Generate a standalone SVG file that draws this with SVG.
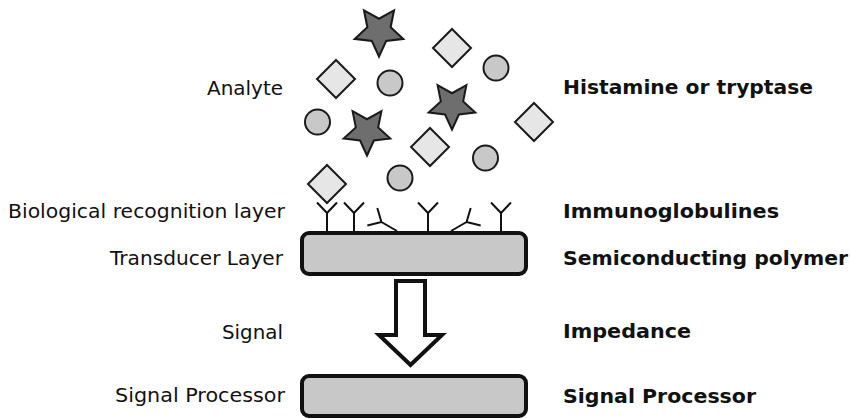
<svg xmlns="http://www.w3.org/2000/svg" xmlns:xlink="http://www.w3.org/1999/xlink" width="850" height="419" viewBox="0 0 850 419">
<style>
.lbl{font-family:"DejaVu Sans","Liberation Sans",sans-serif;font-size:19px;fill:#111}
.bold{font-weight:bold}
.star{fill:#6e6e6e;stroke:#1a1a1a;stroke-width:2;stroke-linejoin:miter}
.dia{fill:#e6e6e6;stroke:#1a1a1a;stroke-width:2}
.circ{fill:#c8c8c8;stroke:#1a1a1a;stroke-width:2}
.box{fill:#c8c8c8;stroke:#111;stroke-width:4}
.ab{fill:none;stroke:#111;stroke-width:2}
.arrow{fill:#fff;stroke:#111;stroke-width:4;stroke-linejoin:miter}
</style>
<defs>
<path id="star" d="M0,24.5 L-6.91,9.51 L-23.3,7.57 L-11.18,-3.63 L-14.41,-19.82 L0,-11.76 L14.41,-19.82 L11.18,-3.63 L23.3,7.57 L6.91,9.51 Z"/>
<path id="dia" d="M0,-19 L19,0 L0,19 L-19,0 Z"/>
<path id="ab" d="M0,0 L0,-18 M-10,-28.5 L0,-18 L10,-28.5"/>
</defs>
<rect width="850" height="419" fill="#fff"/>
<g id="analytes">
<use xlink:href="#star" class="star" transform="translate(379,31) scale(1.04)"/>
<use xlink:href="#star" class="star" transform="translate(452,105)"/>
<use xlink:href="#star" class="star" transform="translate(367,131)"/>
<use xlink:href="#dia" class="dia" transform="translate(452,48)"/>
<use xlink:href="#dia" class="dia" transform="translate(336,79)"/>
<use xlink:href="#dia" class="dia" transform="translate(534,122)"/>
<use xlink:href="#dia" class="dia" transform="translate(430,147)"/>
<use xlink:href="#dia" class="dia" transform="translate(327,184)"/>
<circle class="circ" cx="390" cy="83" r="12.5"/>
<circle class="circ" cx="496" cy="68" r="12.5"/>
<circle class="circ" cx="317.5" cy="122" r="12.5"/>
<circle class="circ" cx="485.5" cy="158" r="12.5"/>
<circle class="circ" cx="400" cy="178" r="12.5"/>
</g>
<g id="antibodies">
<use xlink:href="#ab" class="ab" transform="translate(327,231)"/>
<use xlink:href="#ab" class="ab" transform="translate(354,231)"/>
<use xlink:href="#ab" class="ab" transform="translate(397,231) rotate(-60)"/>
<use xlink:href="#ab" class="ab" transform="translate(428,231)"/>
<use xlink:href="#ab" class="ab" transform="translate(451,231) rotate(60)"/>
<use xlink:href="#ab" class="ab" transform="translate(501,231)"/>
</g>
<g id="transducer">
<rect class="box" x="302" y="233" width="224" height="41" rx="7"/>
</g>
<g id="connectors">
<polygon class="arrow" points="396,281 425,281 425,335 442,335 410.5,365 379,335 396,335"/>
</g>
<g id="processor">
<rect class="box" x="302" y="376" width="224" height="40" rx="7"/>
</g>
<g id="labels-left">
<text class="lbl" x="207" y="95" textLength="76" lengthAdjust="spacingAndGlyphs">Analyte</text>
<text class="lbl" x="8" y="218" textLength="277" lengthAdjust="spacingAndGlyphs">Biological recognition layer</text>
<text class="lbl" x="110" y="265" textLength="173" lengthAdjust="spacingAndGlyphs">Transducer Layer</text>
<text class="lbl" x="222" y="339" textLength="61" lengthAdjust="spacingAndGlyphs">Signal</text>
<text class="lbl" x="115" y="402" textLength="170" lengthAdjust="spacingAndGlyphs">Signal Processor</text>
</g>
<g id="labels-right">
<text class="lbl bold" x="563" y="94" textLength="250" lengthAdjust="spacingAndGlyphs">Histamine or tryptase</text>
<text class="lbl bold" x="563" y="218" textLength="216" lengthAdjust="spacingAndGlyphs">Immunoglobulines</text>
<text class="lbl bold" x="563" y="265" textLength="285" lengthAdjust="spacingAndGlyphs">Semiconducting polymer</text>
<text class="lbl bold" x="563" y="338" textLength="128" lengthAdjust="spacingAndGlyphs">Impedance</text>
<text class="lbl bold" x="563" y="403" textLength="193" lengthAdjust="spacingAndGlyphs">Signal Processor</text>
</g>
</svg>
